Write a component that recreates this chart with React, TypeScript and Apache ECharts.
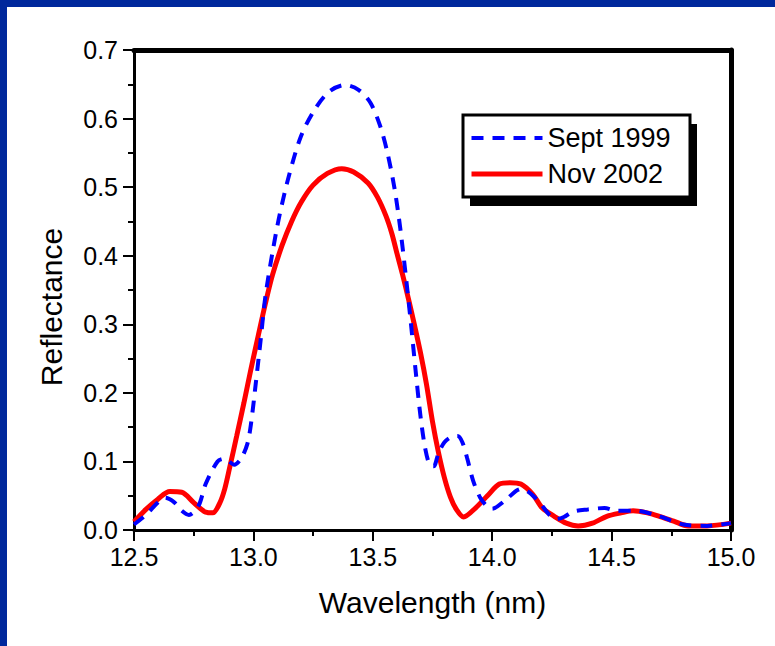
import React, { useEffect, useRef } from "react";
import * as echarts from "echarts";

const xTicks = [12.5, 13.0, 13.5, 14.0, 14.5, 15.0];
const yTicks = [0.0, 0.1, 0.2, 0.3, 0.4, 0.5, 0.6, 0.7];

const novWavelength = [
  12.50, 12.55, 12.60, 12.65, 12.70, 12.75, 12.80, 12.83, 12.86, 12.88, 12.90, 12.93, 12.96, 12.99,
  13.02, 13.05, 13.08, 13.12, 13.16, 13.20, 13.25, 13.31, 13.37, 13.42, 13.48, 13.52, 13.555, 13.58,
  13.60, 13.625, 13.65, 13.675, 13.70, 13.725, 13.75, 13.775, 13.80, 13.825, 13.85, 13.88, 13.93,
  13.98, 14.03, 14.075, 14.12, 14.17, 14.21, 14.26, 14.31, 14.36, 14.42, 14.48, 14.54, 14.59, 14.65,
  14.70, 14.76, 14.82, 14.90, 15.00,
];
const novReflectance = [
  0.012, 0.030, 0.045, 0.056, 0.055, 0.040, 0.026, 0.025, 0.040, 0.060, 0.090, 0.137, 0.185, 0.235,
  0.283, 0.330, 0.372, 0.415, 0.450, 0.478, 0.503, 0.520, 0.527, 0.522, 0.506, 0.485, 0.458, 0.432,
  0.405, 0.372, 0.336, 0.298, 0.258, 0.212, 0.158, 0.113, 0.076, 0.048, 0.030, 0.019, 0.032,
  0.050, 0.067, 0.069, 0.067, 0.052, 0.032, 0.020, 0.010, 0.006, 0.010, 0.020, 0.025, 0.028, 0.025,
  0.020, 0.013, 0.006, 0.006, 0.010,
];

const septWavelength = [
  12.50, 12.55, 12.60, 12.63, 12.67, 12.70, 12.73, 12.77, 12.80, 12.85, 12.88, 12.92, 12.95, 12.975,
  12.99, 13.01, 13.03, 13.05, 13.08, 13.11, 13.15, 13.20, 13.26, 13.32, 13.385, 13.44, 13.49, 13.53,
  13.56, 13.59, 13.615, 13.64, 13.66, 13.68, 13.70, 13.72, 13.74, 13.755, 13.775, 13.80, 13.83,
  13.855, 13.875, 13.895, 13.92, 13.95, 13.98, 14.00, 14.05, 14.10, 14.12, 14.15, 14.18, 14.21, 14.24,
  14.27, 14.30, 14.34, 14.40, 14.47, 14.52, 14.60, 14.70, 14.80, 14.90, 15.00,
];
const septReflectance = [
  0.008, 0.022, 0.040, 0.047, 0.040, 0.028, 0.022, 0.035, 0.067, 0.100, 0.104, 0.095, 0.105, 0.126,
  0.155, 0.214, 0.276, 0.340, 0.405, 0.460, 0.518, 0.575, 0.615, 0.640, 0.649, 0.642, 0.623, 0.590,
  0.552, 0.500, 0.440, 0.365, 0.300, 0.230, 0.165, 0.118, 0.094, 0.093, 0.112, 0.128, 0.136,
  0.137, 0.128, 0.105, 0.072, 0.047, 0.034, 0.031, 0.042, 0.057, 0.060, 0.056, 0.047, 0.035, 0.022,
  0.016, 0.019, 0.027, 0.030, 0.032, 0.028, 0.028, 0.020, 0.008, 0.006, 0.010,
];

const seriesNames = ["Sept 1999", "Nov 2002"];

const FONT = "Arial, 'Liberation Sans', sans-serif";

export default function App() {
  const ref = useRef<HTMLDivElement>(null);
  useEffect(() => {
    if (!ref.current) return;
    const chart = echarts.init(ref.current, null, { renderer: "svg" });
    const zip = (xs: number[], ys: number[]) => xs.map((x, i) => [x, ys[i]]);
    const xMin = xTicks[0];
    const xMax = xTicks[xTicks.length - 1];
    const yMin = yTicks[0];
    const yMax = yTicks[yTicks.length - 1];
    chart.setOption({
      animation: false,
      backgroundColor: "#ffffff",
      textStyle: { fontFamily: FONT },
      grid: { left: 134, right: 44, top: 50, bottom: 116 },
      xAxis: [
        {
          type: "value",
          min: xMin,
          max: xMax,
          interval: 0.5,
          name: "Wavelength (nm)",
          nameLocation: "middle",
          nameGap: 57,
          nameTextStyle: { fontSize: 30, color: "#000", fontFamily: FONT },
          axisLine: { lineStyle: { color: "#000", width: 3 } },
          axisTick: { inside: false, length: 11, lineStyle: { color: "#000", width: 2 } },
          minorTick: { show: true, splitNumber: 2, length: 6, lineStyle: { color: "#000", width: 2 } },
          splitLine: { show: false },
          axisLabel: {
            fontSize: 25,
            color: "#000",
            margin: 14,
            fontFamily: FONT,
            formatter: (v: number) => v.toFixed(1),
          },
        },
        {
          type: "value",
          position: "top",
          min: xMin,
          max: xMax,
          interval: 0.5,
          axisLine: { show: true, onZero: false, lineStyle: { color: "#000", width: 5 } },
          axisTick: { show: false },
          axisLabel: { show: false },
          splitLine: { show: false },
        },
      ],
      yAxis: [
        {
          type: "value",
          min: yMin,
          max: yMax,
          interval: 0.1,
          name: "Reflectance",
          nameLocation: "middle",
          nameGap: 68,
          nameTextStyle: { fontSize: 30, color: "#000", fontFamily: FONT, padding: [0, 34, 0, 0] },
          axisLine: { lineStyle: { color: "#000", width: 3 } },
          axisTick: { inside: false, length: 11, lineStyle: { color: "#000", width: 2 } },
          minorTick: { show: true, splitNumber: 2, length: 6, lineStyle: { color: "#000", width: 2 } },
          splitLine: { show: false },
          axisLabel: {
            fontSize: 25,
            color: "#000",
            margin: 16,
            fontFamily: FONT,
            formatter: (v: number) => v.toFixed(1),
          },
        },
        {
          type: "value",
          position: "right",
          min: yMin,
          max: yMax,
          interval: 0.1,
          axisLine: { show: true, onZero: false, lineStyle: { color: "#000", width: 5 } },
          axisTick: { show: false },
          axisLabel: { show: false },
          splitLine: { show: false },
        },
      ],
      legend: {
        data: [
          { name: seriesNames[0], lineStyle: { width: 4 } },
          { name: seriesNames[1], lineStyle: { width: 5 } },
        ],
        orient: "vertical",
        left: 469,
        top: 123,
        z: 10,
        itemWidth: 71,
        itemHeight: 14,
        itemGap: 6,
        padding: 0,
        itemStyle: { opacity: 0 },
        lineStyle: { width: 4 },
        textStyle: { fontSize: 27, color: "#000", lineHeight: 30, fontFamily: FONT },
      },
      graphic: [
        { type: "rect", z: 5, shape: { x: 470, y: 124, width: 227, height: 82 }, style: { fill: "#000" } },
        {
          type: "rect",
          z: 6,
          shape: { x: 463, y: 115, width: 227, height: 82 },
          style: { fill: "#fff", stroke: "#000", lineWidth: 3 },
        },
        { type: "rect", z: 20, shape: { x: 0, y: 0, width: 775, height: 7 }, style: { fill: "#00289c" } },
        { type: "rect", z: 20, shape: { x: 0, y: 0, width: 7, height: 646 }, style: { fill: "#00289c" } },
      ],
      series: [
        {
          name: seriesNames[1],
          type: "line",
          data: zip(novWavelength, novReflectance),
          showSymbol: false,
          symbol: "none",
          smooth: 0.3,
          lineStyle: { color: "#ff0000", width: 5 },
          itemStyle: { color: "#ff0000" },
        },
        {
          name: seriesNames[0],
          type: "line",
          data: zip(septWavelength, septReflectance),
          showSymbol: false,
          symbol: "none",
          smooth: 0.3,
          lineStyle: { color: "#0000ff", width: 4, type: [12, 9] },
          itemStyle: { color: "#0000ff" },
        },
      ],
    });
    return () => chart.dispose();
  }, []);
  return (
    <div
      ref={ref}
      style={{ position: "fixed", left: 0, top: 0, width: 775, height: 646, background: "#fff" }}
    />
  );
}
